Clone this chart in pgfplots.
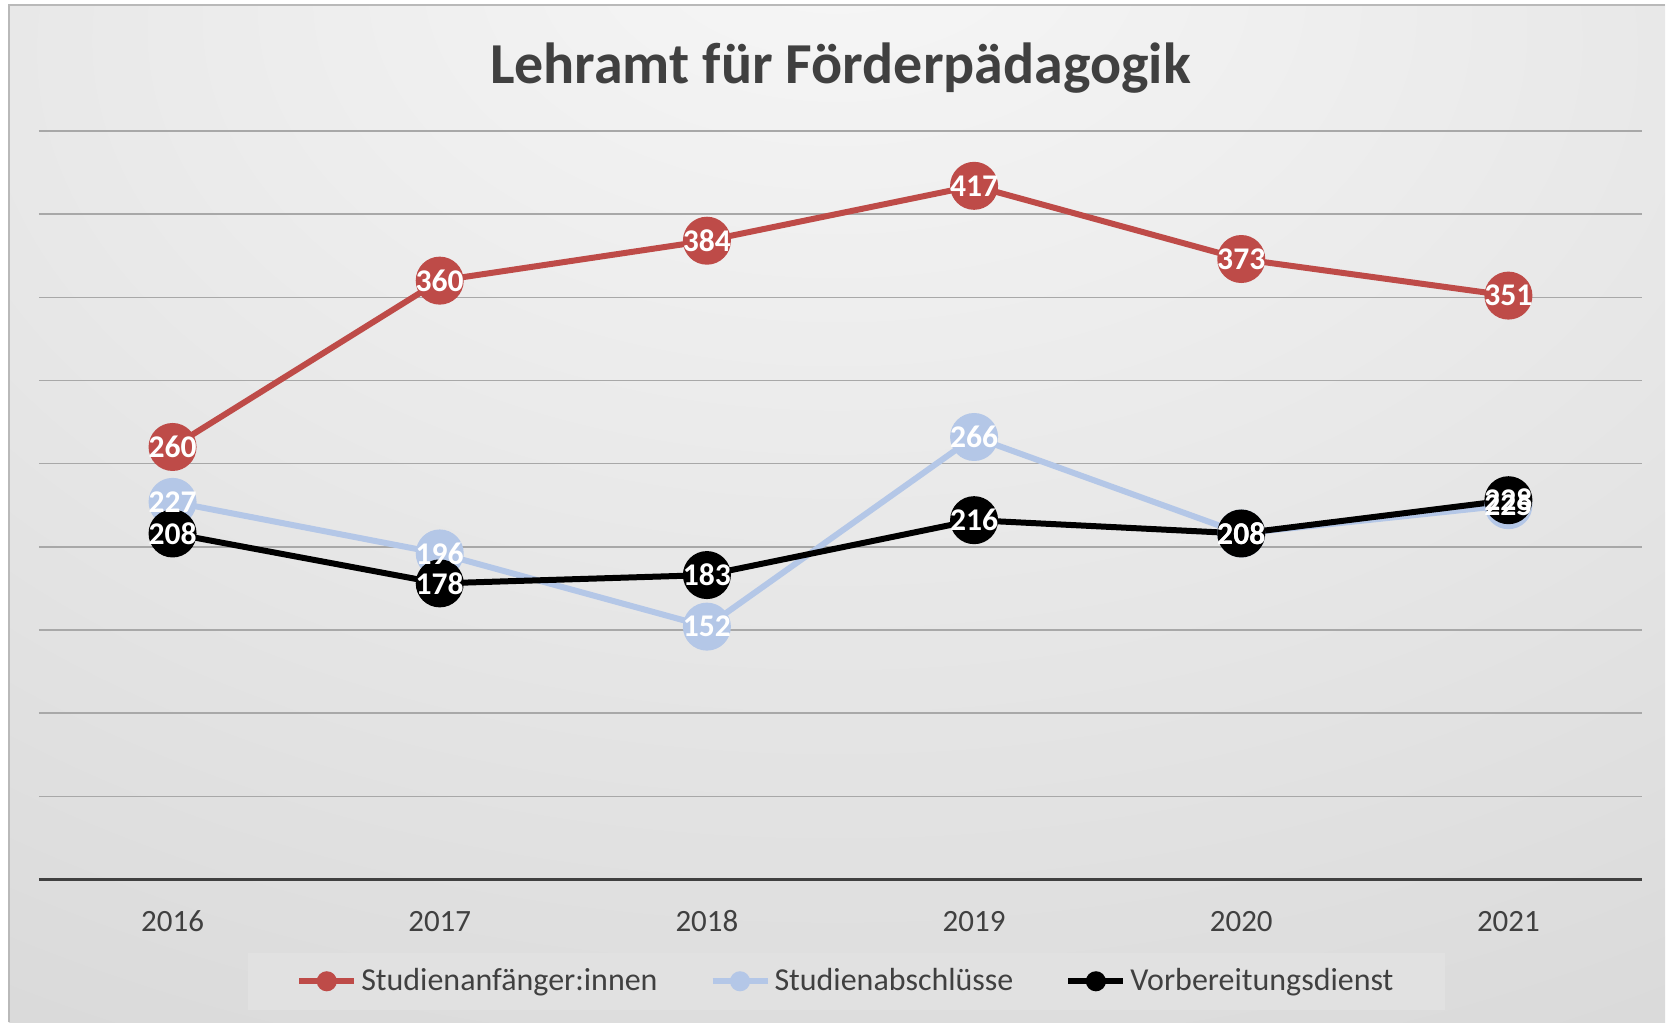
\documentclass[border=0pt]{standalone}
\usepackage{fontspec}
\setmainfont{Carlito}
\usepackage{pgfplots}
\pgfplotsset{compat=1.18}
\definecolor{redS}{RGB}{190,75,72}
\definecolor{blueS}{RGB}{180,199,231}
\definecolor{txt}{RGB}{64,64,64}
\definecolor{bgA}{RGB}{247,247,247}
\definecolor{bgB}{RGB}{232,232,232}
\definecolor{bgC}{RGB}{210,210,210}
\definecolor{bgD}{RGB}{186,186,186}
\definecolor{legbg}{RGB}{225,225,225}
\definecolor{gridc}{RGB}{168,168,168}
\pgfdeclareradialshading{bgshade}{\pgfpoint{0bp}{30bp}}{color(0bp)=(bgA); color(25bp)=(bgB); color(60bp)=(bgC); color(100bp)=(bgD)}
\begin{document}
\begin{tikzpicture}[x=0.5pt,y=0.5pt]
\fill[white] (0,0) rectangle (1666,1023);
\shade[shading=bgshade] (9,0) rectangle (1666,1018);
\draw[gray!55, line width=1pt] (9,0) -- (9,1018) -- (1666,1018);
\node[text=txt, font=\fontsize{29}{34}\selectfont\bfseries] at (841,955) {Lehramt für Förderpädagogik};
\begin{axis}[
  at={(19.5pt,71.5pt)}, anchor=south west,
  width=802pt, height=374.5pt, scale only axis,
  xmin=-0.5, xmax=5.5, ymin=0, ymax=450,
  xtick={0,1,2,3,4,5},
  xticklabels={2016,2017,2018,2019,2020,2021},
  ytick={50,100,150,200,250,300,350,400,450},
  yticklabels={},
  ymajorgrids, major grid style={gridc, line width=0.75pt},
  axis x line*=bottom, axis y line*=left,
  x axis line style={txt, line width=1.5pt},
  y axis line style={draw=none},
  major tick length=0pt,
  /pgf/number format/assume math mode=true,
  xticklabel style={text=txt, font=\fontsize{15.5}{18}\selectfont, inner sep=0pt, anchor=north, text height=11pt, text depth=0pt, yshift=-15pt},
  clip=false,
  legend columns=3,
  legend style={at={(0.504,-0.136)}, anchor=center, draw=none, fill=legbg,
    font=\fontsize{16}{19}\selectfont, text=txt,
    inner xsep=24pt, inner ysep=6pt,
    nodes={inner xsep=2pt},
    /tikz/every even column/.append style={column sep=24pt}},
  legend image code/.code={\draw[mark repeat=2,mark phase=2,#1] plot coordinates {(0pt,0pt) (13.75pt,0pt) (27.5pt,0pt)};},
  legend image post style={mark size=3.5pt},
  every node near coord/.append style={anchor=center, text=white, font=\fontsize{15.8}{18}\selectfont\bfseries, inner sep=0pt},
]
\addplot[redS, line width=3pt, mark=*, mark size=10.5pt] coordinates {(0,260) (1,360) (2,384) (3,417) (4,373) (5,351)};
\addlegendentry{Studienanfänger:innen}
\addplot[blueS, line width=3pt, mark=*, mark size=10.5pt] coordinates {(0,227) (1,196) (2,152) (3,266) (4,208) (5,225)};
\addlegendentry{Studienabschlüsse}
\addplot[black, line width=3pt, mark=*, mark size=10.5pt] coordinates {(0,208) (1,178) (2,183) (3,216) (4,208) (5,228)};
\addlegendentry{Vorbereitungsdienst}
\addplot[draw=none, nodes near coords, forget plot] coordinates {(0,260) (1,360) (2,384) (3,417) (4,373) (5,351)};
\addplot[draw=none, nodes near coords, forget plot] coordinates {(0,227) (1,196) (2,152) (3,266) (4,208) (5,225)};
\addplot[draw=none, nodes near coords, forget plot] coordinates {(0,208) (1,178) (2,183) (3,216) (4,208) (5,228)};
\end{axis}
\end{tikzpicture}
\end{document}
